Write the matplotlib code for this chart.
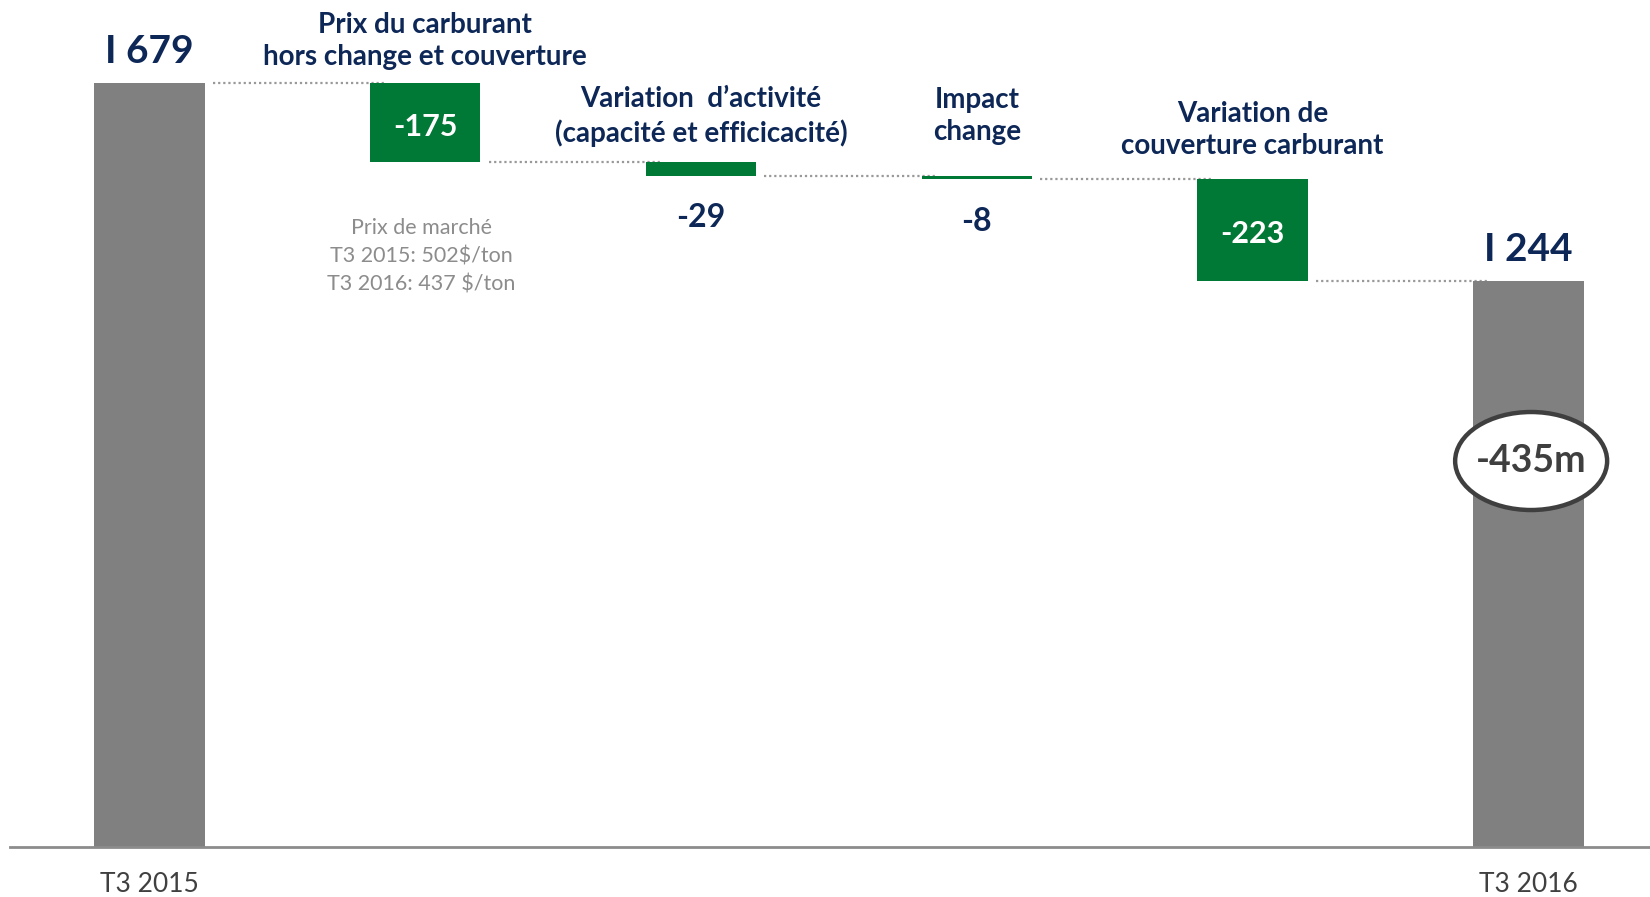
import matplotlib
matplotlib.use('Agg')
import matplotlib.pyplot as plt
from matplotlib.patches import Ellipse

plt.rcParams['font.family'] = ['Lato', 'DejaVu Sans']

# data
categories = ["T3 2015",
              "Prix du carburant\nhors change et couverture",
              "Variation  d\u2019activit\u00e9\n(capacit\u00e9 et efficicacit\u00e9)",
              "Impact\nchange",
              "Variation de\ncouverture carburant",
              "T3 2016"]
values = [1679, -175, -29, -8, -223, 1244]
value_labels = ["I 679", "-175", "-29", "-8", "-223", "I 244"]
tick_labels = ["T3 2015", "", "", "", "", "T3 2016"]
note = "Prix de march\u00e9\nT3 2015: 502$/ton\nT3 2016: 437 $/ton"
total_label = "-435m"

navy = '#0d2757'
green = '#007836'
grey = '#808080'

fig = plt.figure(figsize=(16.5, 8.97), dpi=100)
ax = fig.add_axes([0, 0, 1, 1])
ax.set_xlim(-0.542, 5.441)
ax.set_ylim(-110, 1861)
ax.axis('off')

w = 0.4
n = len(values)
level = 0
tops = []
bottoms = []
for i, v in enumerate(values):
    if i == 0 or i == n - 1:
        ax.bar(i, v, width=w, color=grey, zorder=2)
        level = v
        tops.append(v)
        bottoms.append(0)
    else:
        new = level + v
        ax.bar(i, -v, bottom=new, width=w, color=green, zorder=2)
        tops.append(level)
        bottoms.append(new)
        level = new

# dotted connectors
for i in range(n - 1):
    y = bottoms[i] if 0 < i else tops[i]
    ax.plot([i + w / 2 + 0.03, i + 1 - w / 2 + 0.05], [y, y],
            color='#999999', lw=1.6, ls=(0, (1, 1.3)), zorder=1)

# baseline
ax.plot([-0.504, 5.441], [0, 0], color='#8c8c8c', lw=2, zorder=3)

# totals above grey bars
for i in (0, n - 1):
    ax.annotate(value_labels[i], (i, tops[i]), xytext=(0, 31), textcoords='offset pixels',
                ha='center', va='center', fontsize=28, fontweight='bold', color=navy)

# step titles and values
title_off = {1: 42, 2: 46, 3: 60, 4: 49}
for i in range(1, n - 1):
    ax.annotate(categories[i], (i, tops[i]), xytext=(0, title_off[i]), textcoords='offset pixels',
                ha='center', va='center', fontsize=20, fontweight='bold', color=navy,
                linespacing=1.3)
    if abs(values[i]) > 100:
        ax.annotate(value_labels[i], (i, (tops[i] + bottoms[i]) / 2), xytext=(0, -4),
                    textcoords='offset pixels', ha='center', va='center',
                    fontsize=22, fontweight='bold', color='white', zorder=4)
    else:
        ax.annotate(value_labels[i], (i, bottoms[i]), xytext=(0, -42), textcoords='offset pixels',
                    ha='center', va='center', fontsize=23, fontweight='bold', color=navy)

# market price note
ax.annotate(note, (1, bottoms[1]), xytext=(-4, -94), textcoords='offset pixels',
            ha='center', va='center', fontsize=15.5, color='#8c8c8c', linespacing=1.5)

# x labels
for i, t in enumerate(tick_labels):
    if t:
        ax.annotate(t, (i, 0), xytext=(0, -38), textcoords='offset pixels',
                    ha='center', va='center', fontsize=19, color='#404040')

# ellipse with total change
px_per_unit_y = 764 / 1679
px_per_unit_x = 275.8
ey = 848
ax.add_patch(Ellipse((n - 1 + 0.01, ey), 152 / px_per_unit_x, 98 / px_per_unit_y,
                     facecolor='white', edgecolor='#3f3f3f', lw=3.2, zorder=5))
ax.text(n - 1 + 0.01, ey, total_label, ha='center', va='center', fontsize=27,
        fontweight='bold', color='#3f3f3f', zorder=6)

fig.savefig('out.png', dpi=100)
